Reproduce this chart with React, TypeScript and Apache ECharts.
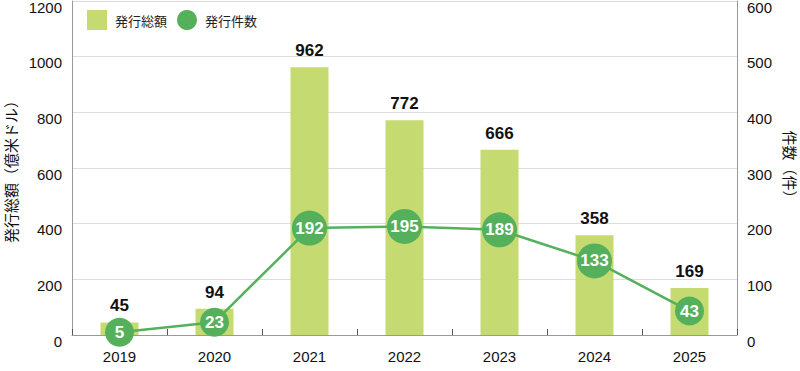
import React, { useEffect, useRef } from "react";
import * as echarts from "echarts";

const years = ["2019", "2020", "2021", "2022", "2023", "2024", "2025"];
const totalAmount = [45, 94, 962, 772, 666, 358, 169];
const issueCount = [5, 23, 192, 195, 189, 133, 43];

const FONT = "'Noto Sans CJK JP', 'Noto Sans', sans-serif";
const NUMFONT = "'Liberation Sans', 'Noto Sans', sans-serif";

export default function App() {
  const ref = useRef<HTMLDivElement>(null);
  useEffect(() => {
    if (!ref.current) return;
    const chart = echarts.init(ref.current, null, { renderer: "svg" });
    const yLabel = {
      color: "#111",
      fontSize: 15,
      margin: 10,
      fontFamily: NUMFONT,
      verticalAlign: "top",
      lineHeight: 12,
      formatter: (v: number) => String(v),
    };
    chart.setOption({
      animation: false,
      textStyle: { fontFamily: FONT },
      legend: {
        left: 82,
        top: 5,
        itemWidth: 20,
        itemHeight: 20,
        itemGap: 10,
        textStyle: { fontSize: 13, color: "#222", fontFamily: FONT, padding: [0, 0, 0, 3] },
        data: [
          { name: "発行総額", icon: "rect" },
          { name: "発行件数", icon: "circle" },
        ],
      },
      grid: { left: 72, right: 63, top: 1, bottom: 36, outerBoundsMode: "none", containLabel: false },
      xAxis: {
        type: "category",
        data: years,
        axisLine: { lineStyle: { color: "#999", width: 1 } },
        axisTick: { show: true, inside: true, length: 6, lineStyle: { color: "#555" } },
        axisLabel: { color: "#111", fontSize: 15, margin: 14, fontFamily: NUMFONT },
      },
      yAxis: [
        {
          type: "value",
          min: 0,
          max: 1200,
          interval: 200,
          name: "発行総額（億米ドル）",
          nameLocation: "middle",
          nameGap: 52,
          nameRotate: 90,
          nameTextStyle: { fontSize: 15, color: "#111", fontFamily: FONT },
          axisLine: { show: true, lineStyle: { color: "#999" } },
          axisTick: { show: false },
          axisLabel: yLabel,
          splitLine: { lineStyle: { color: "#ddd" } },
        },
        {
          type: "value",
          min: 0,
          max: 600,
          interval: 100,
          name: "件数（件）",
          nameLocation: "middle",
          nameGap: 42,
          nameRotate: -90,
          nameTextStyle: { fontSize: 15, color: "#111", fontFamily: FONT },
          axisLine: { show: true, lineStyle: { color: "#999" } },
          axisTick: { show: false },
          axisLabel: yLabel,
          splitLine: { show: false },
        },
      ],
      series: [
        {
          name: "発行総額",
          type: "bar",
          data: totalAmount,
          barWidth: 38,
          itemStyle: { color: "#c6da72" },
          label: {
            show: true,
            position: "top",
            distance: 8,
            color: "#111",
            fontSize: 17,
            fontWeight: "bold",
            fontFamily: NUMFONT,
          },
        },
        {
          name: "発行件数",
          type: "line",
          yAxisIndex: 1,
          data: issueCount,
          symbol: "circle",
          symbolSize: (v: number) => (v >= 100 ? 35 : 29),
          lineStyle: { color: "#55b05c", width: 2.5 },
          itemStyle: { color: "#55b05c" },
          label: {
            show: true,
            position: "inside",
            color: "#fff",
            fontSize: 17,
            fontWeight: "bold",
            fontFamily: NUMFONT,
          },
        },
      ],
    });
    return () => chart.dispose();
  }, []);
  return <div ref={ref} style={{ width: 800, height: 371, position: "absolute", left: 0, top: 0 }} />;
}
